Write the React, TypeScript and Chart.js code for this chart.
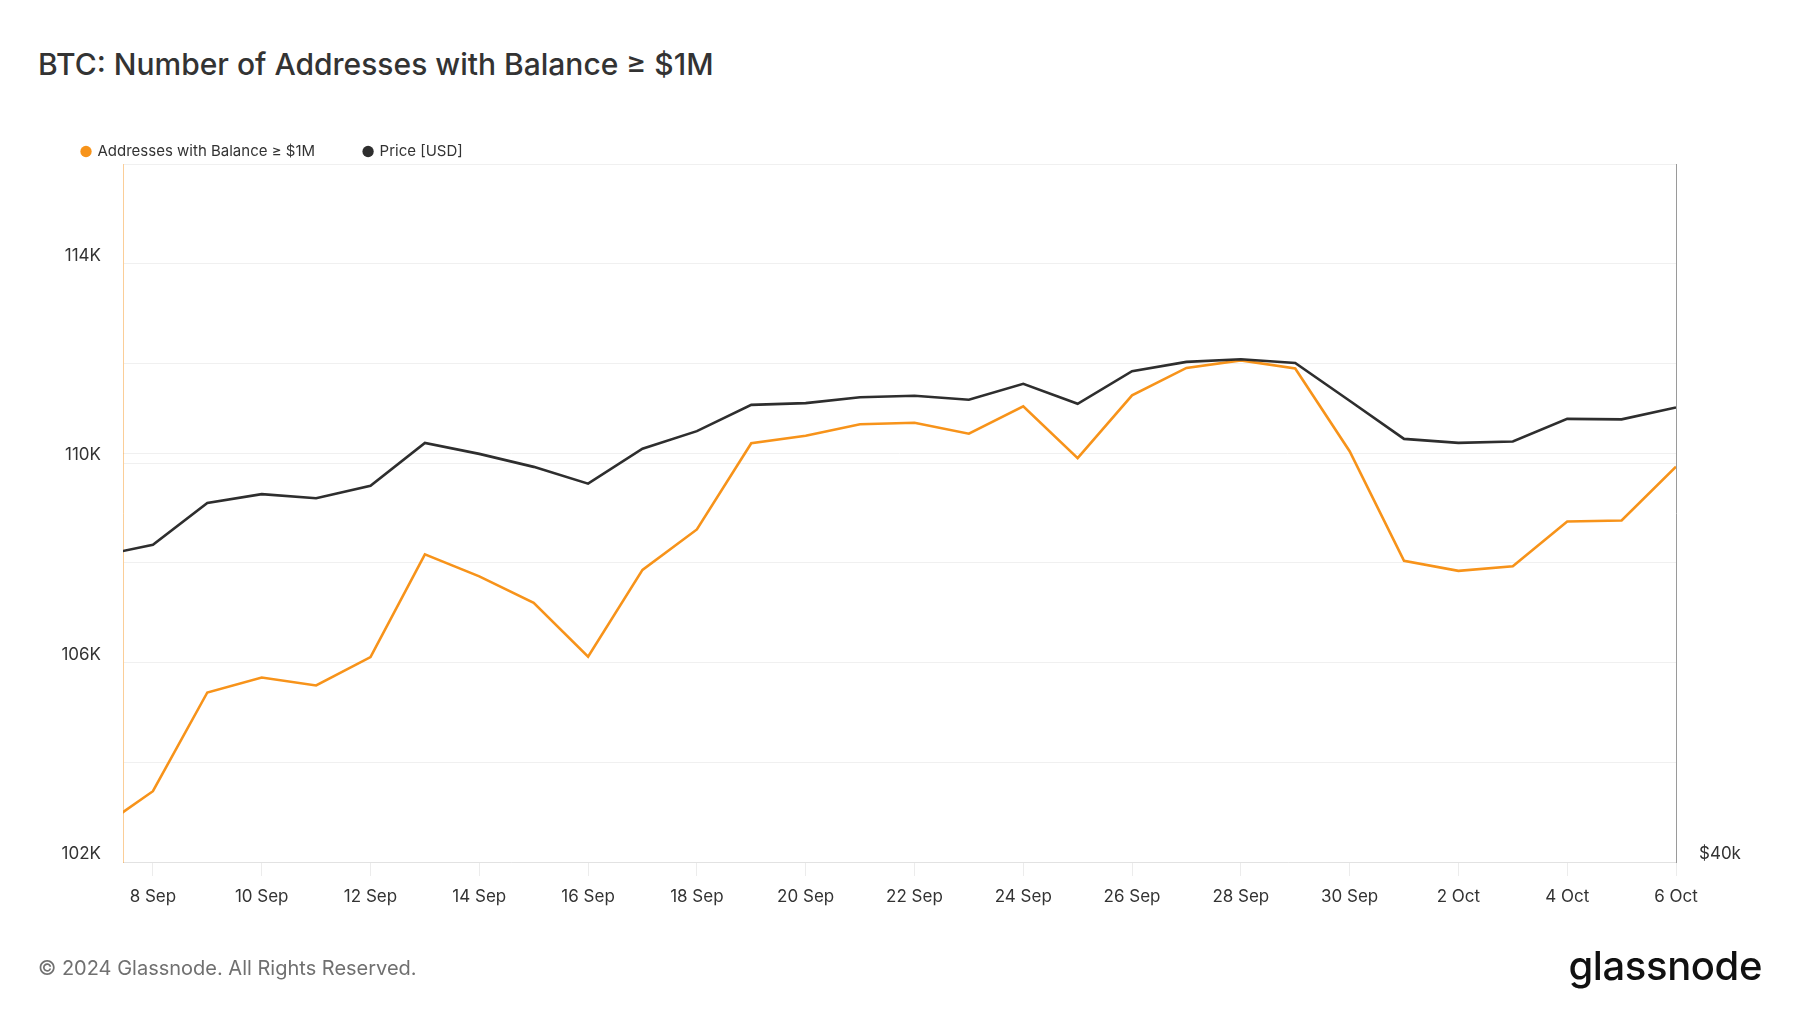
import React, { useEffect, useRef } from 'react';
import { Chart, registerables } from 'chart.js';

Chart.register(...registerables);

const dates = [
  '7 Sep', '8 Sep', '9 Sep', '10 Sep', '11 Sep', '12 Sep', '13 Sep', '14 Sep', '15 Sep', '16 Sep',
  '17 Sep', '18 Sep', '19 Sep', '20 Sep', '21 Sep', '22 Sep', '23 Sep', '24 Sep', '25 Sep', '26 Sep',
  '27 Sep', '28 Sep', '29 Sep', '30 Sep', '1 Oct', '2 Oct', '3 Oct', '4 Oct', '5 Oct', '6 Oct',
];

const addresses = [
  102660, 103420, 105400, 105700, 105540, 106110, 108170, 107730, 107200, 106120,
  107860, 108670, 110400, 110550, 110780, 110810, 110590, 111140, 110100, 111360,
  111910, 112060, 111900, 110240, 108040, 107840, 107930, 108830, 108850, 109930,
];

const price = [
  54200, 54810, 57130, 57640, 57400, 58120, 60640, 59990, 59220, 58240,
  60300, 61360, 62980, 63090, 63460, 63550, 63300, 64310, 63050, 65120,
  65730, 65900, 65660, 63240, 60890, 60650, 60730, 62110, 62080, 62820,
];

const xTickIndexes = [1, 3, 5, 7, 9, 11, 13, 15, 17, 19, 21, 23, 25, 27, 29];
const leftTickValues = [102000, 104000, 106000, 108000, 110000, 112000, 114000, 116000];
const leftLabeled = [102000, 106000, 110000, 114000];
const rightTickValues = [40000, 60000];
const rightLabeled = [40000];

const ORANGE = '#f7931a';
const DARK = '#2e2e2e';
const FONT = 'Inter, "Noto Sans", sans-serif';

export default function App() {
  const canvasRef = useRef<HTMLCanvasElement | null>(null);

  useEffect(() => {
    const canvas = canvasRef.current;
    if (!canvas) return;
    const chart = new Chart(canvas, {
      type: 'line',
      data: {
        datasets: [
          {
            label: 'Addresses with Balance ≥ $1M',
            data: addresses.map((v, i) => ({ x: i, y: v })),
            borderColor: ORANGE,
            backgroundColor: ORANGE,
            borderWidth: 2.6,
            pointRadius: 0,
            tension: 0,
            yAxisID: 'y',
            order: 1,
          },
          {
            label: 'Price [USD]',
            data: price.map((v, i) => ({ x: i, y: v })),
            borderColor: DARK,
            backgroundColor: DARK,
            borderWidth: 2.6,
            pointRadius: 0,
            tension: 0,
            yAxisID: 'y1',
            order: 0,
          },
        ],
      },
      options: {
        responsive: false,
        animation: false,
        devicePixelRatio: 1,
        layout: { padding: { top: 95, left: 33, right: 0, bottom: 91 } },
        plugins: {
          tooltip: { enabled: false },
          title: { display: false },
          legend: {
            display: true,
            position: 'top',
            align: 'start',
            maxHeight: 69,
            labels: {
              usePointStyle: true,
              pointStyle: 'circle',
              boxWidth: 8,
              boxHeight: 8,
              padding: 49,
              color: '#333333',
              font: { family: FONT, size: 15 },
              sort: (a: any, b: any) => a.datasetIndex - b.datasetIndex,
              generateLabels: (chart: any) =>
                Chart.defaults.plugins.legend.labels
                  .generateLabels(chart)
                  .map((l: any) => ({ ...l, lineWidth: 0 })),
            },
          },
        },
        scales: {
          x: {
            type: 'linear',
            min: 0.45,
            max: 29,
            afterBuildTicks: (scale: any) => {
              scale.ticks = xTickIndexes.map((v) => ({ value: v }));
            },
            afterFit: (scale: any) => {
              scale.height = 60;
            },
            ticks: {
              callback: (v: any) => dates[Math.round(Number(v))] ?? '',
              color: '#333333',
              font: { family: FONT, size: 17 },
              padding: 11,
              maxRotation: 0,
              autoSkip: false,
            },
            grid: {
              drawOnChartArea: false,
              drawTicks: true,
              tickLength: 14,
              color: '#ececec',
            },
            border: { color: '#e2e2e2', width: 1 },
          },
          y: {
            type: 'linear',
            position: 'left',
            min: 102000,
            max: 116000,
            afterBuildTicks: (scale: any) => {
              scale.ticks = leftTickValues.map((v) => ({ value: v }));
            },
            afterFit: (scale: any) => {
              scale.width = 90;
            },
            ticks: {
              callback: (v: any) => (leftLabeled.includes(Number(v)) ? `${Number(v) / 1000}K` : ''),
              color: '#333333',
              font: { family: FONT, size: 17 },
              padding: 22,
              labelOffset: -8,
            },
            grid: { color: '#f0f0f0', drawTicks: false, lineWidth: 1 },
            border: { color: 'rgba(247,147,26,0.45)', width: 1 },
          },
          y1: {
            type: 'logarithmic',
            position: 'right',
            min: 40000,
            max: 80000,
            afterBuildTicks: (scale: any) => {
              scale.ticks = rightTickValues.map((v) => ({ value: v }));
            },
            afterFit: (scale: any) => {
              scale.width = 124;
            },
            ticks: {
              callback: (v: any) => (rightLabeled.includes(Number(v)) ? `$${Number(v) / 1000}k` : ''),
              color: '#333333',
              font: { family: FONT, size: 17 },
              padding: 23,
              labelOffset: -8,
            },
            grid: { color: '#f0f0f0', drawTicks: false, lineWidth: 1 },
            border: { color: '#9a9a9a', width: 1 },
          },
        },
      },
    } as any);
    return () => chart.destroy();
  }, []);

  return (
    <div
      style={{
        position: 'fixed',
        left: 0,
        top: 0,
        width: 1800,
        height: 1013,
        background: '#ffffff',
        overflow: 'hidden',
      }}
    >
      <div
        style={{
          position: 'absolute',
          left: 38,
          top: 46,
          fontFamily: FONT,
          fontSize: 30,
          fontWeight: 500,
          lineHeight: '36px',
          color: '#333333',
          whiteSpace: 'nowrap',
        }}
      >
        BTC: Number of Addresses with Balance ≥ $1M
      </div>
      <canvas
        ref={canvasRef}
        width={1800}
        height={1013}
        style={{ position: 'absolute', left: 0, top: 0, width: 1800, height: 1013 }}
      />
      <div
        style={{
          position: 'absolute',
          left: 38,
          top: 956,
          fontFamily: FONT,
          fontSize: 20,
          lineHeight: '24px',
          color: '#707070',
          whiteSpace: 'nowrap',
        }}
      >
        © 2024 Glassnode. All Rights Reserved.
      </div>
      <div
        style={{
          position: 'absolute',
          right: 38,
          top: 946,
          fontFamily: FONT,
          fontSize: 40,
          fontWeight: 500,
          lineHeight: '40px',
          letterSpacing: '-0.4px',
          color: '#111111',
          whiteSpace: 'nowrap',
        }}
      >
        glassnode
      </div>
    </div>
  );
}
